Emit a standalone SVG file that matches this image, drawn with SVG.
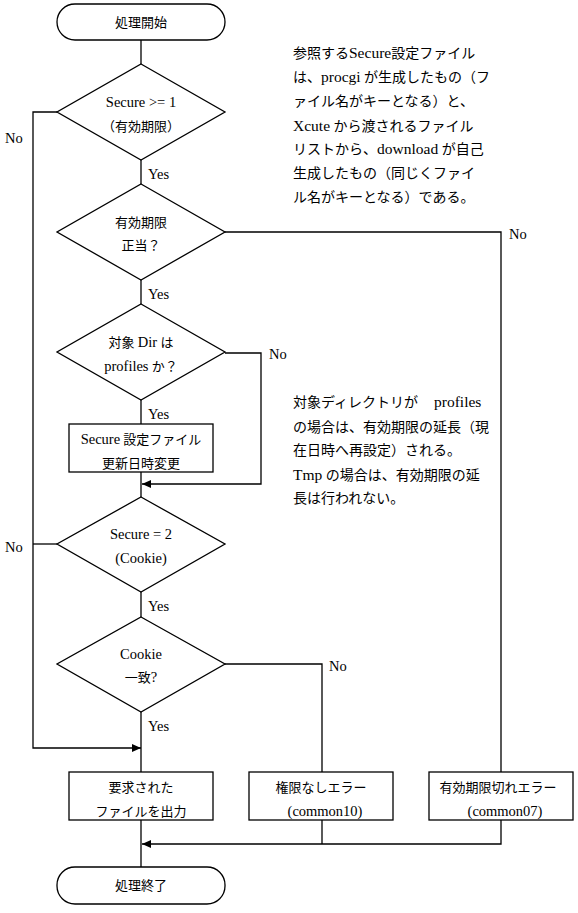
<svg xmlns="http://www.w3.org/2000/svg" width="578" height="913" viewBox="0 0 578 913">
<defs>
<style>
.s{fill:#fff;stroke:#000;stroke-width:1.3}
.c{fill:none;stroke:#000;stroke-width:1.3}
text{font-family:"Liberation Serif","Noto Sans CJK JP",serif;fill:#000}
.n{font-size:13px;text-anchor:middle}
.e{font-size:14.5px}
.l{font-size:14.5px}
.p{font-size:14px}
.q{font-size:15.5px}
</style>
<marker id="ar" markerWidth="10" markerHeight="8" refX="9" refY="4" orient="auto" markerUnits="userSpaceOnUse">
<path d="M0,0 L9,4 L0,8 Z" fill="#000"/>
</marker>
</defs>
<rect width="578" height="913" fill="#fff"/>
<g id="connectors">
<path class="c" d="M141,40 V64"/>
<path class="c" d="M141,160 V184"/>
<path class="c" d="M141,280 V304"/>
<path class="c" d="M141,400 V424"/>
<path class="c" d="M141,472 V497"/>
<path class="c" d="M141,592 V617"/>
<path class="c" d="M141,712 V772"/>
<path class="c" d="M141,820 V867"/>
<path class="c" d="M57,112 H33 V748 H141" marker-end="url(#ar)"/>
<path class="c" d="M57,544 H33"/>
<path class="c" d="M225,232 H501 V772"/>
<path class="c" d="M225,353 H261 V484 H142" marker-end="url(#ar)"/>
<path class="c" d="M225,664 H322 V772"/>
<path class="c" d="M322,820 V844"/>
<path class="c" d="M501,820 V844 H142" marker-end="url(#ar)"/>
<text class="l" x="5" y="143">No</text>
<text class="l" x="148" y="179">Yes</text>
<text class="l" x="509" y="239">No</text>
<text class="l" x="148" y="299">Yes</text>
<text class="l" x="269" y="359">No</text>
<text class="l" x="148" y="419">Yes</text>
<text class="l" x="5" y="552">No</text>
<text class="l" x="148" y="611">Yes</text>
<text class="l" x="329" y="671">No</text>
<text class="l" x="148" y="731">Yes</text>
</g>
<g id="start">
<rect class="s" x="57" y="4" width="168" height="36" rx="18" ry="18"/>
<text class="n" x="141" y="27">処理開始</text>
</g>
<g id="d1">
<polygon class="s" points="141,64 225,112 141,160 57,112"/>
<text class="n" x="141" y="107"><tspan class="e">Secure &gt;= 1</tspan></text>
<text class="n" x="141" y="131">（有効期限）</text>
</g>
<g id="d2">
<polygon class="s" points="141,184 225,232 141,280 57,232"/>
<text class="n" x="141" y="227">有効期限</text>
<text class="n" x="141" y="250">正当？</text>
</g>
<g id="d3">
<polygon class="s" points="141,304 225,352 141,400 57,352"/>
<text class="n" x="141" y="347">対象 <tspan class="e">Dir</tspan> は</text>
<text class="n" x="141" y="371"><tspan class="e">profiles</tspan> か？</text>
</g>
<g id="update">
<rect class="s" x="69" y="424" width="144" height="48"/>
<text class="n" x="141" y="444"><tspan class="e">Secure</tspan> 設定ファイル</text>
<text class="n" x="141" y="468">更新日時変更</text>
</g>
<g id="d4">
<polygon class="s" points="141,497 225,544 141,592 57,544"/>
<text class="n" x="141" y="539"><tspan class="e">Secure = 2</tspan></text>
<text class="n" x="141" y="563"><tspan class="e">(Cookie)</tspan></text>
</g>
<g id="d5">
<polygon class="s" points="141,617 225,664 141,712 57,664"/>
<text class="n" x="141" y="659"><tspan class="e">Cookie</tspan></text>
<text class="n" x="141" y="682">一致<tspan class="e">?</tspan></text>
</g>
<g id="output">
<rect class="s" x="69" y="772" width="144" height="48"/>
<text class="n" x="141" y="792">要求された</text>
<text class="n" x="141" y="816">ファイルを出力</text>
</g>
<g id="err10">
<rect class="s" x="249" y="772" width="144" height="48"/>
<text class="n" x="321" y="792">権限なしエラー</text>
<text class="n" x="325" y="816"><tspan class="e">(common10)</tspan></text>
</g>
<g id="err07">
<rect class="s" x="429" y="772" width="144" height="48"/>
<text class="n" x="498" y="792">有効期限切れエラー</text>
<text class="n" x="505" y="816"><tspan class="e">(common07)</tspan></text>
</g>
<g id="end">
<rect class="s" x="57" y="867" width="168" height="37" rx="18" ry="18"/>
<text class="n" x="141" y="890">処理終了</text>
</g>
<g id="note1">
<text class="p" x="293" y="58">参照する<tspan class="q">Secure</tspan>設定ファイル</text>
<text class="p" x="293" y="82">は、<tspan class="q">procgi</tspan> が生成したもの（フ</text>
<text class="p" x="293" y="106">ァイル名がキーとなる）と、</text>
<text class="p" x="293" y="131"><tspan class="q">Xcute</tspan> から渡されるファイル</text>
<text class="p" x="293" y="154">リストから、<tspan class="q">download</tspan> が自己</text>
<text class="p" x="293" y="178">生成したもの（同じくファイ</text>
<text class="p" x="293" y="202">ル名がキーとなる）である。</text>
</g>
<g id="note2">
<text class="p" x="293" y="407">対象ディレクトリが<tspan class="q" x="434">profiles</tspan></text>
<text class="p" x="293" y="432">の場合は、有効期限の延長（現</text>
<text class="p" x="293" y="455">在日時へ再設定）される。</text>
<text class="p" x="293" y="480"><tspan class="q">Tmp</tspan> の場合は、有効期限の延</text>
<text class="p" x="293" y="503">長は行われない。</text>
</g>
</svg>
